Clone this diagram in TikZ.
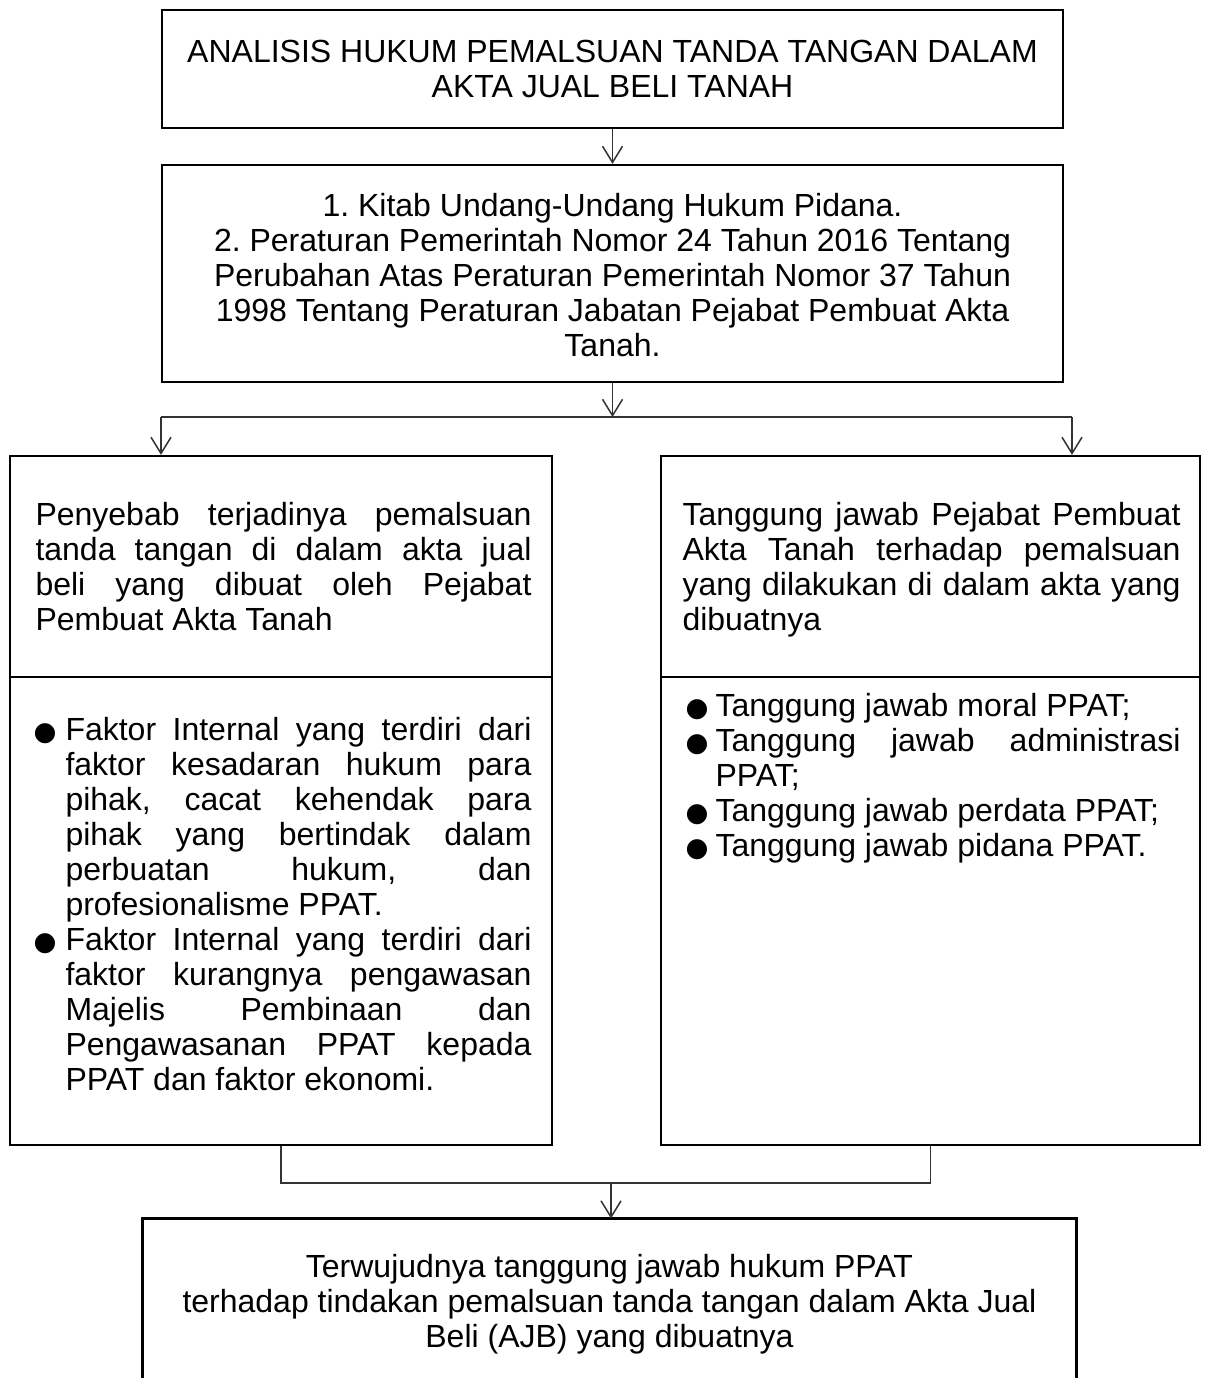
\documentclass[tikz,border=0pt]{standalone}
\usepackage{fontspec}
\setmainfont{Liberation Sans}
\newfontfamily\symfont{DejaVu Sans}
\usetikzlibrary{arrows.meta}
\frenchspacing
\newcommand{\bul}{{\symfont\fontsize{10.5pt}{10.5pt}\selectfont ●}}
\newcommand{\bitem}[2]{\par\noindent\hangindent=#1\hangafter=1\makebox[#1][l]{\bul}#2\par}
\begin{document}
\begin{tikzpicture}[x=0.4pt,y=-0.4pt,
  box/.style={draw, line width=0.9pt, inner sep=0pt},
  conn/.style={draw=black!80, line width=0.6pt},
  arr/.style={conn, -{Straight Barb[length=6.5pt,width=8pt,line width=0.6pt]}},
  txt/.style={inner sep=0pt, font=\fontsize{12.8pt}{14pt}\selectfont},
  jtxt/.style={txt, anchor=north west, align=justify,
    execute at begin node={\frenchspacing\hyphenpenalty=10000\exhyphenpenalty=10000\parskip=0pt\parindent=0pt}}
]
\useasboundingbox (0,0) rectangle (1208,1378);
\fill[white] (0,0) rectangle (1208,1378);

% boxes
\node[box, minimum width=360.4pt, minimum height=47.2pt] (b1) at (612.5,69) {};
\node[box, minimum width=360.4pt, minimum height=86.8pt] (b2) at (612.5,273.5) {};
\node[box, minimum width=216.8pt, minimum height=88.4pt] (lu) at (281,566.5) {};
\node[box, minimum width=216.8pt, minimum height=187.2pt] (ll) at (281,911) {};
\node[box, minimum width=215.6pt, minimum height=88.4pt] (ru) at (930.5,566.5) {};
\node[box, minimum width=215.6pt, minimum height=187.2pt] (rl) at (930.5,911) {};
\node[inner sep=0pt, minimum width=373.2pt, minimum height=63.6pt] (bb) at (609.5,1298.5) {};
\draw[line width=0.9pt] (bb.south west) -- (bb.north west) -- (bb.north east) -- (bb.south east);

% texts
\node[txt, align=center] (t1) at (612.5,69) {ANALISIS HUKUM PEMALSUAN TANDA TANGAN DALAM\\AKTA JUAL BELI TANAH};
\node[txt, align=center] (t2) at (612.5,275) {1. Kitab Undang-Undang Hukum Pidana.\\
2. Peraturan Pemerintah Nomor 24 Tahun 2016 Tentang\\
Perubahan Atas Peraturan Pemerintah Nomor 37 Tahun\\
1998 Tentang Peraturan Jabatan Pejabat Pembuat Akta\\
Tanah.};
\node[jtxt, text width=198.4pt] (tlu) at (35,502) {Penyebab terjadinya pemalsuan\linebreak
tanda tangan di dalam akta jual\linebreak
beli yang dibuat oleh Pejabat\linebreak
Pembuat Akta Tanah};
\node[jtxt, text width=199.2pt] (tru) at (682,502) {Tanggung jawab Pejabat Pembuat\linebreak
Akta Tanah terhadap pemalsuan\linebreak
yang dilakukan di dalam akta yang\linebreak
dibuatnya};
\node[jtxt, text width=199.2pt] (tll) at (33,705) {%
\bitem{12.8pt}{Faktor Internal yang terdiri dari\linebreak
faktor kesadaran hukum para\linebreak
pihak, cacat kehendak para\linebreak
pihak yang bertindak dalam\linebreak
perbuatan hukum, dan\linebreak
profesionalisme PPAT.}%
\bitem{12.8pt}{Faktor Internal yang terdiri dari\linebreak
faktor kurangnya pengawasan\linebreak
Majelis Pembinaan dan\linebreak
Pengawasanan PPAT kepada\linebreak
PPAT dan faktor ekonomi.}};
\node[jtxt, text width=198pt] (trl) at (685,681) {%
\bitem{12pt}{Tanggung jawab moral PPAT;}%
\bitem{12pt}{Tanggung jawab administrasi\linebreak PPAT;}%
\bitem{12pt}{Tanggung jawab perdata PPAT;}%
\bitem{12pt}{Tanggung jawab pidana PPAT.}};
\node[txt, align=center] (tbb) at (609.5,1304) {Terwujudnya tanggung jawab hukum PPAT\\
terhadap tindakan pemalsuan tanda tangan dalam Akta Jual\\
Beli (AJB) yang dibuatnya};

% connectors
\coordinate (hL) at (161,417);
\coordinate (hR) at (1072,417);
\coordinate (jM) at (611,1183);
\draw[arr] (b1.south) -- (b2.north);
\draw[arr] (b2.south) -- (b2.south |- hL);
\draw[conn] (hL) -- (hR);
\draw[arr] (hL) -- (hL |- lu.north);
\draw[arr] (hR) -- (hR |- ru.north);
\draw[conn] (ll.south) |- (jM) -| (rl.south);
\draw[arr] (jM) -- (jM |- bb.north);
\end{tikzpicture}
\end{document}
